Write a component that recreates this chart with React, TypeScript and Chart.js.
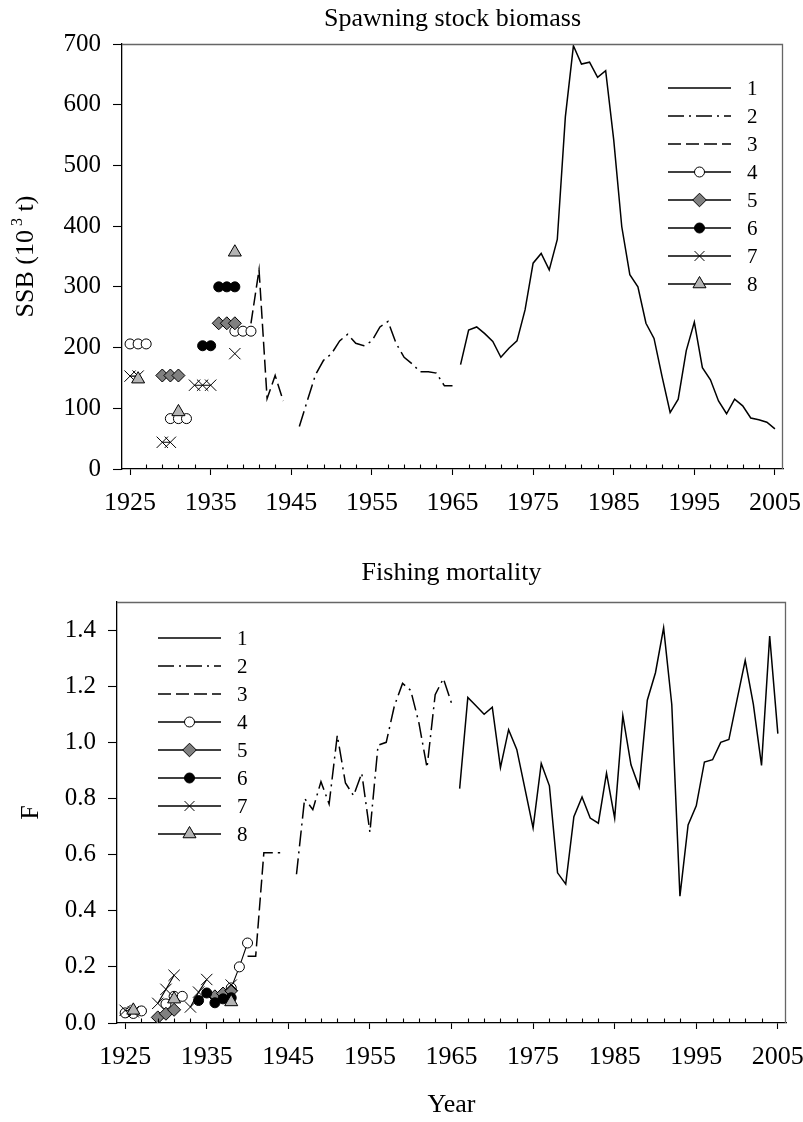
import React, { useEffect, useRef } from 'react';
import { Chart, registerables } from 'chart.js';

Chart.register(...registerables);

const FONT = '"Liberation Serif", "Times New Roman", serif';

// ---------- tick values ----------
const YEAR_TICKS = [1925, 1935, 1945, 1955, 1965, 1975, 1985, 1995, 2005];
const MINOR_YEAR_TICKS = [1927, 1929, 1931, 1933, 1937, 1939, 1941, 1943, 1947, 1949, 1951, 1953, 1957, 1959, 1961, 1963, 1967, 1969, 1971, 1973, 1977, 1979, 1981, 1983, 1987, 1989, 1991, 1993, 1997, 1999, 2001, 2003];
const SSB_TICKS = [0, 100, 200, 300, 400, 500, 600, 700];
const F_TICKS = [0, 0.2, 0.4, 0.6, 0.8, 1.0, 1.2, 1.4];
const LEGEND_LABELS = ['1', '2', '3', '4', '5', '6', '7', '8'];

// ---------- series 1 (solid) ----------
const S1_YEARS = [1966, 1967, 1968, 1969, 1970, 1971, 1972, 1973, 1974, 1975, 1976, 1977, 1978, 1979, 1980, 1981, 1982, 1983, 1984, 1985, 1986, 1987, 1988, 1989, 1990, 1991, 1992, 1993, 1994, 1995, 1996, 1997, 1998, 1999, 2000, 2001, 2002, 2003, 2004, 2005];
const S1_SSB = [172, 229, 234, 223, 210, 184, 199, 211, 262, 339, 355, 328, 378, 580, 697, 667, 670, 645, 656, 542, 399, 320, 300, 240, 215, 152, 93, 115, 195, 242, 167, 147, 112, 91, 115, 104, 84, 81, 77, 66];
const S1_F = [0.835, 1.16, 1.13, 1.10, 1.125, 0.91, 1.045, 0.975, 0.835, 0.695, 0.925, 0.845, 0.535, 0.495, 0.735, 0.805, 0.73, 0.712, 0.89, 0.73, 1.095, 0.92, 0.84, 1.15, 1.248, 1.408, 1.135, 0.452, 0.706, 0.774, 0.93, 0.938, 1.0, 1.01, 1.152, 1.292, 1.135, 0.918, 1.379, 1.031];

// ---------- series 2 (dash-dot) ----------
const S2_YEARS = [1946, 1947, 1948, 1949, 1950, 1951, 1952, 1953, 1954, 1955, 1956, 1957, 1958, 1959, 1960, 1961, 1962, 1963, 1964, 1965];
const S2_SSB = [70, 113, 155, 179, 190, 211, 222, 207, 203, 211, 234, 243, 207, 184, 173, 160, 160, 158, 137, 137];
const S2_F = [0.53, 0.80, 0.76, 0.86, 0.78, 1.025, 0.855, 0.81, 0.89, 0.68, 0.99, 1.0, 1.13, 1.21, 1.185, 1.07, 0.91, 1.17, 1.227, 1.14];

// ---------- series 3 (dashed) ----------
const S3_YEARS = [1940, 1941, 1942, 1943, 1944];
const S3_SSB = [240, 328, 116, 154, 112];
const S3_F = [0.238, 0.238, 0.607, 0.607, 0.607];

// ---------- series 4 (open circles) ----------
const S4_YEARS = [1925, 1926, 1927, 1930, 1931, 1932, 1938, 1939, 1940];
const S4_SSB = [206, 206, 206, 83, 83, 83, 227, 227, 227];
const S4_F = [0.036, 0.034, 0.043, 0.068, 0.095, 0.095, 0.125, 0.2, 0.285];

// ---------- series 5 (grey diamonds) ----------
const S5_YEARS = [1929, 1930, 1931, 1936, 1937, 1938];
const S5_SSB = [154, 154, 154, 240, 240, 240];
const S5_F = [0.02, 0.033, 0.047, 0.095, 0.105, 0.115];

// ---------- series 6 (black circles) ----------
const S6_SSB_YEARS = [1934, 1935, null, 1936, 1937, 1938];
const S6_SSB = [203, 203, null, 300, 300, 300];
const S6_F_YEARS = [1934, 1935, 1936, 1937, 1938];
const S6_F = [0.08, 0.107, 0.072, 0.086, 0.09];

// ---------- series 7 (crosses) ----------
const S7_SSB_YEARS = [1925, 1926, 1929, 1930, 1933, 1934, 1935, 1938];
const S7_SSB = [153, 153, 44, 44, 138, 138, 138, 190];
const S7_F_YEARS = [1925, 1926, 1929, 1930, 1931, 1933, 1934, 1935, 1938];
const S7_F = [0.045, 0.04, 0.07, 0.12, 0.17, 0.057, 0.11, 0.155, 0.135];

// ---------- series 8 (grey triangles) ----------
const S8_YEARS = [1926, 1931, 1938];
const S8_SSB = [148, 94, 357];
const S8_F = [0.045, 0.085, 0.075];

// ---------- styles ----------
type Style = { dash: number[]; pointStyle?: string; radius: number; legendRadius: number; bg: string };
const STYLES: Style[] = [
  { dash: [], radius: 0, legendRadius: 0, bg: '#000' },
  { dash: [16, 5, 2, 5], radius: 0, legendRadius: 0, bg: '#000' },
  { dash: [13, 5], radius: 0, legendRadius: 0, bg: '#000' },
  { dash: [], pointStyle: 'circle', radius: 5, legendRadius: 5, bg: '#ffffff' },
  { dash: [], pointStyle: 'rectRot', radius: 6.5, legendRadius: 6.8, bg: '#808080' },
  { dash: [], pointStyle: 'circle', radius: 5, legendRadius: 5, bg: '#000000' },
  { dash: [], pointStyle: 'crossRot', radius: 8, legendRadius: 7, bg: '#000000' },
  { dash: [], pointStyle: 'triangle', radius: 7.5, legendRadius: 7.5, bg: '#b4b4b4' },
];

function pts(years: (number | null)[], vals: (number | null)[]) {
  const out: { x: number; y: number | null }[] = [];
  for (let i = 0; i < years.length; i++) {
    const yr = years[i];
    const prev = i > 0 ? years[i - 1] : null;
    if (yr === null) {
      out.push({ x: (prev ?? 0) + 0.5, y: null });
      continue;
    }
    if (prev !== null && i > 0 && yr - prev > 1) out.push({ x: prev + 0.5, y: null });
    out.push({ x: yr, y: vals[i] });
  }
  return out;
}

function makeDatasets(series: { x: number; y: number | null }[][]) {
  return series.map((data, k) => {
    const s = STYLES[k];
    return {
      label: LEGEND_LABELS[k],
      data,
      borderColor: '#000',
      borderWidth: k < 3 ? 1.5 : 1.1,
      borderDash: s.dash,
      pointStyle: (s.pointStyle || 'circle') as any,
      pointRadius: s.radius,
      pointHoverRadius: s.radius,
      pointBackgroundColor: s.bg,
      pointBorderColor: '#000',
      pointBorderWidth: 1,
      spanGaps: false,
      tension: 0,
      fill: false,
      order: 7 - k,
    };
  });
}

function drawMarker(ctx: CanvasRenderingContext2D, s: Style, x: number, y: number) {
  if (!s.pointStyle) return;
  const r = s.legendRadius;
  ctx.save();
  ctx.setLineDash([]);
  ctx.lineWidth = 1;
  ctx.strokeStyle = '#000';
  ctx.fillStyle = s.bg;
  ctx.beginPath();
  if (s.pointStyle === 'circle') {
    ctx.arc(x, y, r, 0, Math.PI * 2);
    ctx.fill();
    ctx.stroke();
  } else if (s.pointStyle === 'rectRot') {
    ctx.moveTo(x, y - r);
    ctx.lineTo(x + r, y);
    ctx.lineTo(x, y + r);
    ctx.lineTo(x - r, y);
    ctx.closePath();
    ctx.fill();
    ctx.stroke();
  } else if (s.pointStyle === 'triangle') {
    for (let i = 0; i < 3; i++) {
      const a = (i * 2 * Math.PI) / 3;
      const px = x + Math.sin(a) * r;
      const py = y - Math.cos(a) * r;
      if (i === 0) ctx.moveTo(px, py);
      else ctx.lineTo(px, py);
    }
    ctx.closePath();
    ctx.fill();
    ctx.stroke();
  } else if (s.pointStyle === 'crossRot') {
    const d = r * Math.SQRT1_2;
    ctx.moveTo(x - d, y - d);
    ctx.lineTo(x + d, y + d);
    ctx.moveTo(x - d, y + d);
    ctx.lineTo(x + d, y - d);
    ctx.stroke();
  }
  ctx.restore();
}

type DecorCfg = {
  id: string;
  title: string;
  titleY: number;
  yTitle: string;
  ySup?: string;
  yTitleRest?: string;
  yTitleX: number;
  xTitle?: string;
  xTitleY?: number;
  legendLineX0: (ca: any) => number;
  legendTop: (ca: any) => number;
};

function makeDecor(cfg: DecorCfg) {
  return {
    id: cfg.id,
    afterDraw(chart: any) {
      const ctx: CanvasRenderingContext2D = chart.ctx;
      const ca = chart.chartArea;
      const xs = chart.scales.x;
      ctx.save();
      // frame (top + right)
      ctx.strokeStyle = '#666';
      ctx.lineWidth = 1.3;
      ctx.beginPath();
      ctx.moveTo(ca.left, ca.top + 0.5);
      ctx.lineTo(ca.right - 0.5, ca.top + 0.5);
      ctx.lineTo(ca.right - 0.5, ca.bottom);
      ctx.stroke();
      // minor ticks (inward)
      ctx.strokeStyle = '#000';
      ctx.lineWidth = 1.1;
      for (const v of MINOR_YEAR_TICKS) {
        const px = Math.round(xs.getPixelForValue(v)) + 0.5;
        ctx.beginPath();
        ctx.moveTo(px, ca.bottom);
        ctx.lineTo(px, ca.bottom - 4.5);
        ctx.stroke();
      }
      // title
      ctx.fillStyle = '#000';
      ctx.font = `26px ${FONT}`;
      ctx.textAlign = 'center';
      ctx.textBaseline = 'alphabetic';
      ctx.fillText(cfg.title, (ca.left + ca.right) / 2, cfg.titleY);
      // x title
      if (cfg.xTitle && cfg.xTitleY) {
        ctx.fillText(cfg.xTitle, (ca.left + ca.right) / 2, cfg.xTitleY);
      }
      // y title (rotated)
      ctx.save();
      ctx.translate(cfg.yTitleX, (ca.top + ca.bottom) / 2);
      ctx.rotate(-Math.PI / 2);
      ctx.textAlign = 'left';
      ctx.font = `26px ${FONT}`;
      const w1 = ctx.measureText(cfg.yTitle).width;
      let total = w1;
      let wSup = 0;
      let w2 = 0;
      if (cfg.ySup) {
        ctx.font = `16px ${FONT}`;
        wSup = ctx.measureText(cfg.ySup).width;
        ctx.font = `26px ${FONT}`;
        w2 = ctx.measureText(cfg.yTitleRest || '').width;
        total = w1 + 4 + wSup + w2;
      }
      let cx = -total / 2;
      ctx.fillText(cfg.yTitle, cx, 0);
      cx += w1;
      if (cfg.ySup) {
        cx += 4;
        ctx.font = `16px ${FONT}`;
        ctx.fillText(cfg.ySup, cx, -11);
        cx += wSup;
        ctx.font = `26px ${FONT}`;
        ctx.fillText(cfg.yTitleRest || '', cx, 0);
      }
      ctx.restore();
      // legend
      const x0 = cfg.legendLineX0(ca);
      const x1 = x0 + 63;
      const top = cfg.legendTop(ca);
      ctx.font = `21px ${FONT}`;
      ctx.textAlign = 'left';
      ctx.textBaseline = 'middle';
      for (let k = 0; k < LEGEND_LABELS.length; k++) {
        const y = top + k * 28;
        const s = STYLES[k];
        ctx.save();
        ctx.strokeStyle = '#000';
        ctx.lineWidth = 1.3;
        ctx.setLineDash(s.dash);
        ctx.beginPath();
        ctx.moveTo(x0, y);
        ctx.lineTo(x1, y);
        ctx.stroke();
        ctx.restore();
        drawMarker(ctx, s, (x0 + x1) / 2, y);
        ctx.fillStyle = '#000';
        ctx.fillText(LEGEND_LABELS[k], x1 + 16, y + 1);
      }
      ctx.restore();
    },
  };
}

function xScale(height: number) {
  return {
    type: 'linear' as const,
    min: 1924,
    max: 2006,
    afterBuildTicks: (s: any) => {
      s.ticks = YEAR_TICKS.map((v) => ({ value: v }));
    },
    afterFit: (s: any) => {
      s.height = height;
      s.paddingLeft = 0;
      s.paddingRight = 0;
    },
    ticks: {
      autoSkip: false,
      maxRotation: 0,
      minRotation: 0,
      padding: 13,
      color: '#000',
      font: { family: FONT, size: 26 },
      callback: (v: any) => String(v),
    },
    grid: {
      drawOnChartArea: false,
      drawTicks: true,
      tickLength: 6,
      tickColor: '#000',
      tickWidth: 1.1,
    },
    border: { display: true, color: '#000', width: 1.3 },
  };
}

function yScale(min: number, max: number, ticks: number[], width: number, fmt: (v: number) => string) {
  return {
    type: 'linear' as const,
    min,
    max,
    afterBuildTicks: (s: any) => {
      s.ticks = ticks.map((v) => ({ value: v }));
    },
    afterFit: (s: any) => {
      s.width = width;
      s.paddingTop = 0;
      s.paddingBottom = 0;
    },
    ticks: {
      padding: 12,
      color: '#000',
      font: { family: FONT, size: 25 },
      callback: (v: any) => fmt(Number(v)),
    },
    grid: {
      drawOnChartArea: false,
      drawTicks: true,
      tickLength: 9,
      tickColor: '#000',
      tickWidth: 1.1,
    },
    border: { display: true, color: '#000', width: 1.3 },
  };
}

export default function App() {
  const ref1 = useRef<HTMLCanvasElement>(null);
  const ref2 = useRef<HTMLCanvasElement>(null);

  useEffect(() => {
    const ssbSeries = [
      pts(S1_YEARS, S1_SSB),
      pts(S2_YEARS, S2_SSB),
      pts(S3_YEARS, S3_SSB),
      pts(S4_YEARS, S4_SSB),
      pts(S5_YEARS, S5_SSB),
      pts(S6_SSB_YEARS, S6_SSB),
      pts(S7_SSB_YEARS, S7_SSB),
      pts(S8_YEARS, S8_SSB),
    ];
    const fSeries = [
      pts(S1_YEARS, S1_F),
      pts(S2_YEARS, S2_F),
      pts(S3_YEARS, S3_F),
      pts(S4_YEARS, S4_F),
      pts(S5_YEARS, S5_F),
      pts(S6_F_YEARS, S6_F),
      pts(S7_F_YEARS, S7_F),
      pts(S8_YEARS, S8_F),
    ];

    const common = {
      responsive: false,
      animation: false as const,
      events: [] as any[],
    };

    const c1 = new Chart(ref1.current as HTMLCanvasElement, {
      type: 'line',
      data: { datasets: makeDatasets(ssbSeries) as any },
      options: {
        ...common,
        layout: { padding: { top: 44, right: 20, left: 0, bottom: 0 } },
        plugins: { legend: { display: false }, tooltip: { enabled: false }, title: { display: false } },
        scales: {
          x: xScale(61) as any,
          y: yScale(0, 700, SSB_TICKS, 122, (v) => String(v)) as any,
        },
      },
      plugins: [
        makeDecor({
          id: 'decorTop',
          title: 'Spawning stock biomass',
          titleY: 26,
          yTitle: 'SSB (10',
          ySup: '3',
          yTitleRest: ' t)',
          yTitleX: 33,
          legendLineX0: (ca) => ca.right - 115,
          legendTop: (ca) => ca.top + 44,
        }) as any,
      ],
    });

    const c2 = new Chart(ref2.current as HTMLCanvasElement, {
      type: 'line',
      data: { datasets: makeDatasets(fSeries) as any },
      options: {
        ...common,
        layout: { padding: { top: 62, right: 17, left: 0, bottom: 0 } },
        plugins: { legend: { display: false }, tooltip: { enabled: false }, title: { display: false } },
        scales: {
          x: xScale(99) as any,
          y: yScale(0, 1.5, F_TICKS, 117, (v) => v.toFixed(1)) as any,
        },
      },
      plugins: [
        makeDecor({
          id: 'decorBottom',
          title: 'Fishing mortality',
          titleY: 40,
          yTitle: 'F',
          yTitleX: 38,
          xTitle: 'Year',
          xTitleY: 572,
          legendLineX0: (ca) => ca.left + 41,
          legendTop: (ca) => ca.top + 36,
        }) as any,
      ],
    });

    return () => {
      c1.destroy();
      c2.destroy();
    };
  }, []);

  return (
    <div style={{ position: 'absolute', left: 0, top: 0, width: 803, height: 1122, background: '#fff' }}>
      <canvas ref={ref1} width={803} height={530} style={{ position: 'absolute', left: 0, top: 0 }} />
      <canvas ref={ref2} width={803} height={582} style={{ position: 'absolute', left: 0, top: 540 }} />
    </div>
  );
}
